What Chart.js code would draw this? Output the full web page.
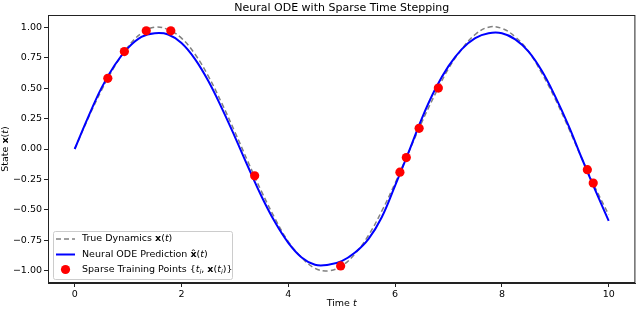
<!DOCTYPE html>
<html>
<head>
<meta charset="utf-8">
<script src="https://cdn.jsdelivr.net/npm/chart.js@4/dist/chart.umd.min.js"></script>
<style>
  html, body { margin: 0; padding: 0; background: #fff; }
  canvas { display: block; }
</style>
</head>
<body>
<canvas id="odeChart" width="640" height="310"></canvas>
<script>
// --- DATA ---
const timeGrid = [0, 0.25, 0.5, 0.75, 1, 1.25, 1.5, 1.75, 2, 2.25, 2.5, 2.75, 3, 3.25, 3.5, 3.75, 4, 4.25, 4.5, 4.75,
    5, 5.25, 5.5, 5.75, 6, 6.25, 6.5, 6.75, 7, 7.25, 7.5, 7.75, 8, 8.25, 8.5, 8.75, 9, 9.25, 9.5, 9.75, 10];
const trueDynamics = [0, 0.25, 0.48, 0.68, 0.84, 0.95, 1.00, 0.98, 0.91, 0.78, 0.60, 0.38, 0.14, -0.11, -0.35, -0.57, -0.76, -0.89, -0.98, -1.00,
    -0.96, -0.86, -0.71, -0.51, -0.28, -0.03, 0.22, 0.45, 0.66, 0.82, 0.94, 1.00, 0.99, 0.92, 0.80, 0.62, 0.41, 0.17, -0.08, -0.32, -0.54];
const odePrediction = [0, 0.26, 0.50, 0.69, 0.83, 0.92, 0.95, 0.94, 0.87, 0.74, 0.56, 0.34, 0.10, -0.15, -0.39, -0.60, -0.77, -0.89, -0.95, -0.95,
    -0.92, -0.85, -0.74, -0.56, -0.30, -0.03, 0.25, 0.49, 0.68, 0.82, 0.91, 0.95, 0.95, 0.90, 0.80, 0.64, 0.43, 0.19, -0.08, -0.34, -0.59];
const sampleTimes = [0.62, 0.93, 1.34, 1.80, 3.37, 4.98, 6.09, 6.21, 6.45, 6.81, 9.60, 9.71];
const sampleStates = [0.58, 0.80, 0.97, 0.97, -0.22, -0.96, -0.19, -0.07, 0.17, 0.50, -0.17, -0.28];
const xTicks = [0, 2, 4, 6, 8, 10];
const yTicks = [-1.00, -0.75, -0.50, -0.25, 0.00, 0.25, 0.50, 0.75, 1.00];

const FONT = "'DejaVu Sans', sans-serif";
const toXY = (xs, ys) => xs.map((x, i) => ({ x: x, y: ys[i] }));

// draw a run of text pieces with their own font styles
function drawRich(ctx, parts, x, y, size, align) {
    const fontFor = p => (p.style || '') + ' ' + (p.sub ? size * 0.7 : size) + 'px ' + FONT;
    let total = 0;
    parts.forEach(p => { ctx.font = fontFor(p); total += ctx.measureText(p.t).width; });
    let cx = align === 'center' ? x - total / 2 : x;
    ctx.textBaseline = 'middle';
    ctx.textAlign = 'left';
    parts.forEach(p => {
        ctx.font = fontFor(p);
        ctx.fillText(p.t, cx, p.sub ? y + size * 0.3 : y);
        cx += ctx.measureText(p.t).width;
    });
}

const legendRows = [
    [{ t: 'True Dynamics ' }, { t: 'x', style: 'bold' }, { t: '(' }, { t: 't', style: 'italic' }, { t: ')' }],
    [{ t: 'Neural ODE Prediction ' }, { t: 'x\u0302', style: 'bold' }, { t: '(' }, { t: 't', style: 'italic' }, { t: ')' }],
    [{ t: 'Sparse Training Points {' }, { t: 't', style: 'italic' }, { t: 'i', style: 'italic', sub: true }, { t: ', ' },
     { t: 'x', style: 'bold' }, { t: '(' }, { t: 't', style: 'italic' }, { t: 'i', style: 'italic', sub: true }, { t: ')}' }]
];

const decorPlugin = {
    id: 'decor',
    afterDraw(chart) {
        const ctx = chart.ctx;
        const a = chart.chartArea;
        ctx.save();
        // frame
        ctx.strokeStyle = '#222';
        ctx.lineWidth = 1;
        ctx.strokeRect(a.left + 0.5, a.top + 0.5, a.right - a.left - 1, a.bottom - a.top - 1);

        ctx.fillStyle = '#000';
        drawRich(ctx, [{ t: 'Neural ODE with Sparse Time Stepping' }], (a.left + a.right) / 2, 8, 11, 'center');
        drawRich(ctx, [{ t: 'Time ' }, { t: 't', style: 'italic' }], (a.left + a.right) / 2, 304, 9.5, 'center');
        ctx.save();
        ctx.translate(6, (a.top + a.bottom) / 2);
        ctx.rotate(-Math.PI / 2);
        drawRich(ctx, [{ t: 'State ' }, { t: 'x', style: 'bold' }, { t: '(' }, { t: 't', style: 'italic' }, { t: ')' }], 0, 0, 9.5, 'center');
        ctx.restore();

        // legend box
        const bx = 53, by = 231, bw = 179, bh = 48;
        ctx.fillStyle = 'rgba(255,255,255,0.8)';
        ctx.strokeStyle = '#cccccc';
        ctx.beginPath();
        ctx.roundRect(bx + 0.5, by + 0.5, bw, bh, 2);
        ctx.fill();
        ctx.stroke();

        const rowsY = [239, 254.5, 269.5];
        const ds = chart.data.datasets;
        // dashed handle
        ctx.lineWidth = ds[0].borderWidth;
        ctx.strokeStyle = ds[0].borderColor;
        ctx.setLineDash(ds[0].borderDash);
        ctx.beginPath(); ctx.moveTo(56, rowsY[0]); ctx.lineTo(75, rowsY[0]); ctx.stroke();
        ctx.setLineDash([]);
        ctx.lineWidth = ds[1].borderWidth;
        ctx.strokeStyle = ds[1].borderColor;
        ctx.beginPath(); ctx.moveTo(56, rowsY[1]); ctx.lineTo(75, rowsY[1]); ctx.stroke();
        ctx.fillStyle = ds[2].backgroundColor;
        ctx.beginPath(); ctx.arc(65.5, rowsY[2], ds[2].pointRadius, 0, Math.PI * 2); ctx.fill();

        ctx.fillStyle = '#000';
        legendRows.forEach((row, i) => drawRich(ctx, row, 82, rowsY[i], 9.5, 'left'));
        ctx.restore();
    }
};

const ctxOde = document.getElementById('odeChart').getContext('2d');
new Chart(ctxOde, {
    type: 'scatter',
    data: {
        datasets: [{
            label: 'True Dynamics',
            data: toXY(timeGrid, trueDynamics),
            showLine: true,
            borderColor: '#808080',
            borderWidth: 1.5,
            borderDash: [5, 3],
            pointRadius: 0,
            tension: 0.4,
            order: 3
        }, {
            label: 'Neural ODE Prediction',
            data: toXY(timeGrid, odePrediction),
            showLine: true,
            borderColor: '#0000ff',
            borderWidth: 2,
            pointRadius: 0,
            tension: 0.4,
            order: 2
        }, {
            label: 'Sparse Training Points',
            data: toXY(sampleTimes, sampleStates),
            backgroundColor: '#ff0000',
            borderWidth: 0,
            pointRadius: 4.6,
            order: 1
        }]
    },
    options: {
        responsive: false,
        animation: false,
        devicePixelRatio: 1,
        layout: { padding: { top: 15, right: 2.5, left: 0, bottom: 0 } },
        plugins: {
            legend: { display: false },
            tooltip: { enabled: false },
            title: { display: false }
        },
        scales: {
            x: {
                type: 'linear',
                min: -0.5,
                max: 10.5,
                afterBuildTicks: axis => { axis.ticks = xTicks.map(v => ({ value: v })); },
                afterFit: axis => { axis.height = 27; },
                grid: { drawOnChartArea: false, drawTicks: true, tickLength: 4, color: '#222' },
                border: { display: true, color: '#222' },
                ticks: { color: '#000', font: { family: FONT, size: 9.5 }, padding: 2, maxRotation: 0 }
            },
            y: {
                type: 'linear',
                min: -1.1,
                max: 1.1,
                afterBuildTicks: axis => { axis.ticks = yTicks.map(v => ({ value: v })); },
                afterFit: axis => { axis.width = 48; },
                grid: { drawOnChartArea: false, drawTicks: true, tickLength: 4, color: '#222' },
                border: { display: true, color: '#222' },
                ticks: {
                    color: '#000',
                    font: { family: FONT, size: 9.5 },
                    padding: 2,
                    callback: v => v.toFixed(2).replace('-', '\u2212')
                }
            }
        }
    },
    plugins: [decorPlugin]
});
</script>
</body>
</html>
